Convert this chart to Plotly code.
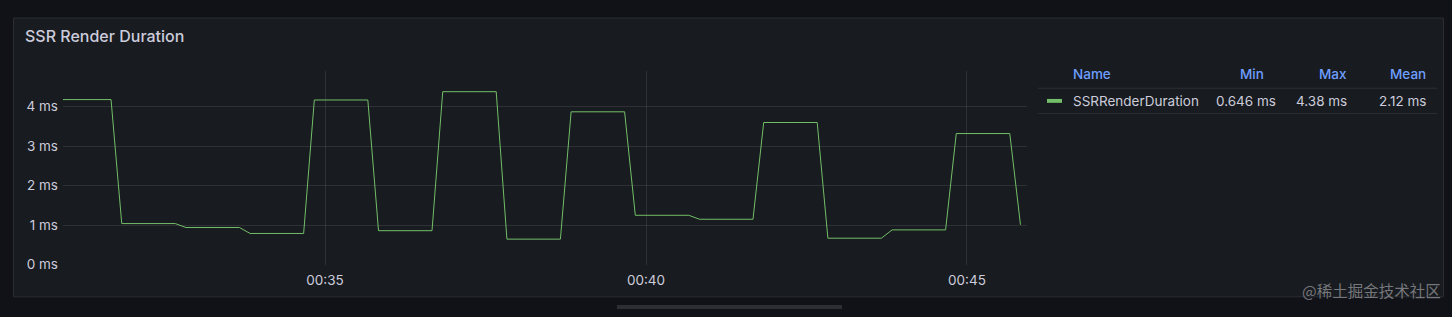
import plotly.graph_objects as go

# ---- data ----
times = ["00:30:50", "00:31:40", "00:31:50", "00:32:40", "00:32:50", "00:33:40", "00:33:50",
         "00:34:40", "00:34:50", "00:35:40", "00:35:50", "00:36:40", "00:36:50", "00:37:40",
         "00:37:50", "00:38:40", "00:38:50", "00:39:40", "00:39:50", "00:40:40", "00:40:50",
         "00:41:40", "00:41:50", "00:42:40", "00:42:50", "00:43:40", "00:43:50", "00:44:40",
         "00:44:50", "00:45:40", "00:45:50"]
values_ms = [4.18, 4.18, 1.04, 1.04, 0.94, 0.94, 0.79, 0.79, 4.17, 4.17, 0.86, 0.86, 4.38, 4.38,
             0.646, 0.646, 3.87, 3.87, 1.25, 1.25, 1.15, 1.15, 3.60, 3.60, 0.67, 0.67, 0.88, 0.88,
             3.32, 3.32, 1.01]
series_name = "SSRRenderDuration"
y_tick_vals = [0, 1, 2, 3, 4]
y_tick_text = ["0 ms", "1 ms", "2 ms", "3 ms", "4 ms"]
x_tick_times = ["00:35:00", "00:40:00", "00:45:00"]
legend_headers = ["Name", "Min", "Max", "Mean"]
legend_stats = ["0.646 ms", "4.38 ms", "2.12 ms"]
title_text = "SSR Render Duration"
watermark = "@稀土掘金技术社区"

DAY = "2024-01-01 "
W, H = 1452, 317


def px(x):
    return x / W


def py(y):
    return 1 - y / H


FONT = "Inter"
TXT = "#ccccdc"
BLUE = "#6e9fff"
GREEN = "#73bf69"
GRID = "rgba(204,204,220,0.12)"

fig = go.Figure()
fig.add_trace(go.Scatter(
    x=[DAY + t for t in times], y=values_ms, mode="lines", name=series_name,
    line=dict(color=GREEN, width=1), hoverinfo="skip", showlegend=False,
))

shapes = []
# panel
shapes.append(dict(type="rect", xref="paper", yref="paper", x0=px(13.5), x1=px(1443.5),
                   y0=py(304.5), y1=py(18.5), fillcolor="#181b1f",
                   line=dict(color="#2a2d33", width=1), layer="below"))
# scrollbar
shapes.append(dict(type="rect", xref="paper", yref="paper", x0=px(617), x1=px(842),
                   y0=py(317), y1=py(313), fillcolor="#2b2e33", line=dict(width=0), layer="below"))
# legend separators
for yy in (90.5, 116.5):
    shapes.append(dict(type="line", xref="paper", yref="paper", x0=px(1038), x1=px(1437),
                       y0=py(yy), y1=py(yy), line=dict(color="#2c2f35", width=1)))
# legend swatch
shapes.append(dict(type="rect", xref="paper", yref="paper", x0=px(1047), x1=px(1062),
                   y0=py(105.5), y1=py(101.5), fillcolor=GREEN, line=dict(width=0)))

ann = []
ann.append(dict(text=title_text, x=px(23), y=py(36.5), xref="paper", yref="paper",
                xanchor="left", yanchor="middle", showarrow=False,
                font=dict(family=FONT, size=16, color=TXT, weight=500)))
# legend header
header_x = [(1071, "left"), (1266, "right"), (1349, "right"), (1428, "right")]
for (xx, anc), h in zip(header_x, legend_headers):
    ann.append(dict(text=h, x=px(xx), y=py(76), xref="paper", yref="paper",
                    xanchor=anc, yanchor="middle", showarrow=False,
                    font=dict(family=FONT, size=13.5, color=BLUE, weight=500)))
row_x = [(1071, "left"), (1278, "right"), (1349, "right"), (1428, "right")]
for (xx, anc), t in zip(row_x, [series_name] + legend_stats):
    ann.append(dict(text=t, x=px(xx), y=py(103.5), xref="paper", yref="paper",
                    xanchor=anc, yanchor="middle", showarrow=False,
                    font=dict(family=FONT, size=13.5, color=TXT)))
ann.append(dict(text=watermark, x=px(1443), y=py(298), xref="paper", yref="paper",
                xanchor="right", yanchor="middle", showarrow=False,
                font=dict(family="Noto Sans CJK SC", size=15.5, color="rgba(150,150,155,0.75)")))

fig.update_layout(
    width=W, height=H, margin=dict(l=0, r=0, t=0, b=0),
    paper_bgcolor="#111217", plot_bgcolor="rgba(0,0,0,0)",
    shapes=shapes, annotations=ann, showlegend=False,
    xaxis=dict(domain=[px(63), px(1027)], type="date",
               range=[DAY + "00:30:55.1", DAY + "00:45:56.1"],
               tickvals=[DAY + t for t in x_tick_times], tickformat="%H:%M",
               showgrid=True, gridcolor=GRID, gridwidth=1, zeroline=False, showline=False,
               ticks="", tickfont=dict(family=FONT, size=13.5, color=TXT),
               ticklabelstandoff=6, fixedrange=True),
    yaxis=dict(domain=[py(271.5), py(73)], range=[0, 4.9],
               tickvals=y_tick_vals, ticktext=y_tick_text,
               showgrid=True, gridcolor=GRID, gridwidth=1, zeroline=False, showline=False,
               ticks="", tickfont=dict(family=FONT, size=13.5, color=TXT),
               ticklabelstandoff=4, fixedrange=True),
)

fig.write_html("out.html", config={"displayModeBar": False})
